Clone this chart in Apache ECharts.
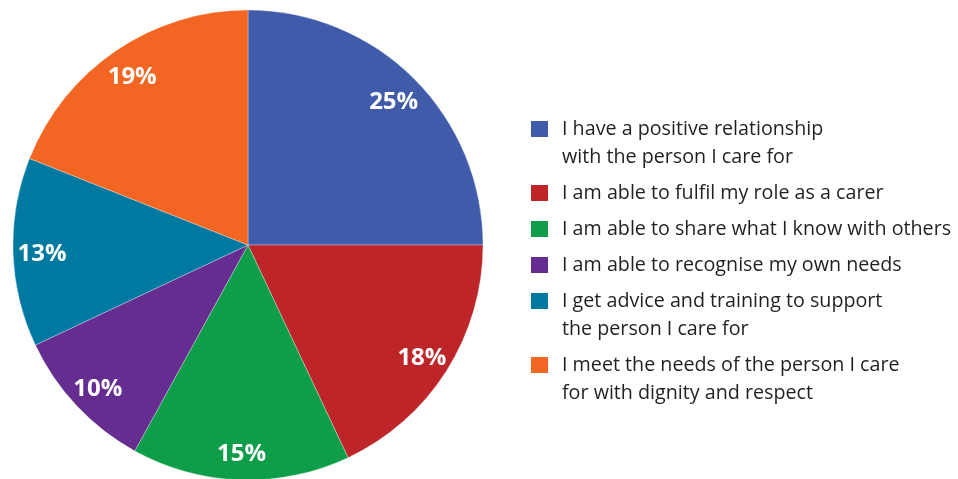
<!DOCTYPE html>
<html>
<head>
<meta charset="utf-8">
<script src="https://cdn.jsdelivr.net/npm/echarts@6/dist/echarts.min.js"></script>
<style>html,body{margin:0;padding:0;background:#fff}#c{width:958px;height:479px}</style>
</head>
<body>
<div id="c"></div>
<script>
var categories = [
  "I have a positive relationship\nwith the person I care for",
  "I am able to fulfil my role as a carer",
  "I am able to share what I know with others",
  "I am able to recognise my own needs",
  "I get advice and training to support\nthe person I care for",
  "I meet the needs of the person I care\nfor with dignity and respect"
];
var values = [25, 18, 15, 10, 13, 19];
var colors = ["#3F5BA9", "#BE2528", "#0E9D48", "#652D8F", "#0079A1", "#F26522"];

var LINE_H = 28;
var pieData = categories.map(function (c, i) {
  return { name: c, value: values[i], itemStyle: { color: colors[i] } };
});
var legendData = categories.map(function (c) {
  var lines = c.split("\n").length;
  return { name: c, icon: "rect", textStyle: { padding: [0, 0, -LINE_H * (lines - 1), 9] } };
});

var chart = echarts.init(document.getElementById("c"), null, { renderer: "canvas" });
chart.setOption({
  animation: false,
  legend: {
    orient: "vertical",
    left: 531,
    top: 115,
    padding: 0,
    itemWidth: 17,
    itemHeight: 16,
    itemGap: 8,
    selectedMode: false,
    data: legendData,
    itemStyle: { borderWidth: 0 },
    formatter: function (name) {
      return name.split("\n").map(function (l) { return "{t|" + l + "}"; }).join("\n");
    },
    textStyle: {
      fontFamily: "Open Sans",
      fontSize: 19.7,
      lineHeight: LINE_H,
      color: "#231F20",
      rich: {
        t: {
          fontFamily: "Open Sans", fontSize: 19.7, lineHeight: LINE_H, height: LINE_H,
          color: "#231F20", backgroundColor: "rgba(255,255,255,0)"
        }
      }
    }
  },
  series: [
    {
      type: "pie",
      center: [248, 245],
      radius: [0, 235],
      startAngle: 90,
      clockwise: true,
      silent: true,
      label: { show: false },
      labelLine: { show: false },
      itemStyle: { borderColor: "rgba(255,255,255,0.6)", borderWidth: 0.5 },
      data: pieData
    },
    {
      type: "pie",
      center: [248, 245],
      radius: [171, 235],
      startAngle: 90,
      clockwise: true,
      silent: true,
      legendHoverLink: false,
      itemStyle: { color: "rgba(0,0,0,0)", borderWidth: 0 },
      label: {
        show: true,
        position: "inside",
        formatter: "{c}%",
        color: "#fff",
        fontFamily: "Open Sans",
        fontWeight: "bold",
        fontSize: 24,
        offset: [0, 3]
      },
      labelLine: { show: false },
      data: categories.map(function (c, i) { return { name: c + " ", value: values[i] }; })
    }
  ]
});
</script>
</body>
</html>
